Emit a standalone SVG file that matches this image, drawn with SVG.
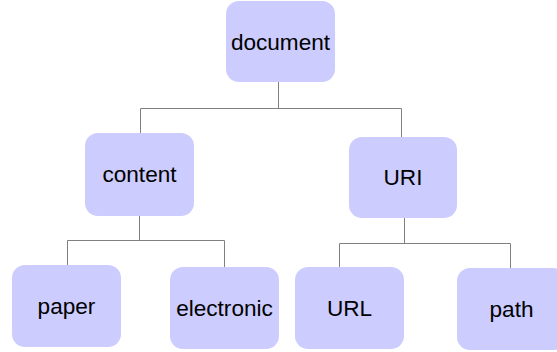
<svg xmlns="http://www.w3.org/2000/svg" width="557" height="352" viewBox="0 0 557 352">
  <style>
    .box { fill: #ccccff; stroke: none; }
    .label { font-family: "Liberation Sans", Arial, sans-serif; font-size: 22.6px; fill: #000; text-anchor: middle; }
    .wire { fill: none; stroke: #808080; stroke-width: 1; }
  </style>
  <rect width="557" height="352" fill="#ffffff"/>
  <g id="connectors">
    <polyline class="wire" points="278.5,82 278.5,108.5"/>
    <polyline class="wire" points="140.5,133 140.5,108.5 401.5,108.5 401.5,137"/>
    <polyline class="wire" points="139.5,216 139.5,240.5"/>
    <polyline class="wire" points="67.5,265 67.5,240.5 224.5,240.5 224.5,267"/>
    <polyline class="wire" points="404.5,218 404.5,243.5"/>
    <polyline class="wire" points="339.5,267 339.5,243.5 510.5,243.5 510.5,268"/>
  </g>
  <g id="document">
    <rect class="box" x="226" y="1" width="109" height="81" rx="13"/>
    <text class="label" x="280.5" y="49.5">document</text>
  </g>
  <g id="content">
    <rect class="box" x="85" y="133" width="109" height="83" rx="13"/>
    <text class="label" x="139.5" y="182">content</text>
  </g>
  <g id="uri">
    <rect class="box" x="349" y="137" width="108" height="81" rx="13"/>
    <text class="label" x="403" y="185">URI</text>
  </g>
  <g id="paper">
    <rect class="box" x="12" y="265" width="109" height="82" rx="13"/>
    <text class="label" x="66.5" y="313.5">paper</text>
  </g>
  <g id="electronic">
    <rect class="box" x="170" y="267" width="109" height="82" rx="13"/>
    <text class="label" x="224.5" y="315.5">electronic</text>
  </g>
  <g id="url">
    <rect class="box" x="295" y="267" width="109" height="82" rx="13"/>
    <text class="label" x="349.5" y="315.5">URL</text>
  </g>
  <g id="path">
    <rect class="box" x="457" y="268" width="109" height="82" rx="13"/>
    <text class="label" x="511.5" y="316.5">path</text>
  </g>
</svg>
